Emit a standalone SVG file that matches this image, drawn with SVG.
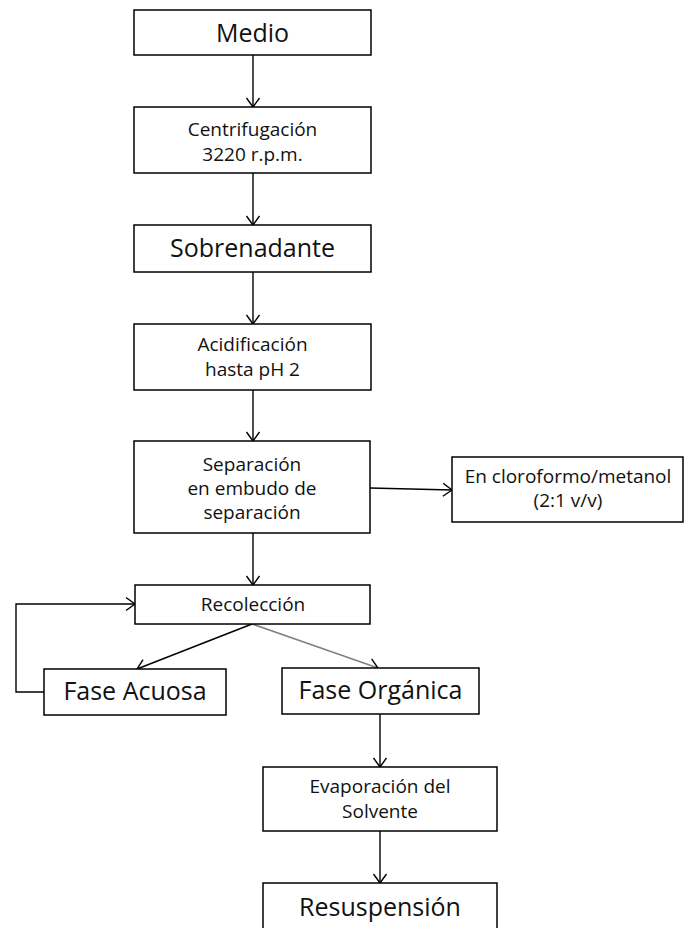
<svg xmlns="http://www.w3.org/2000/svg" width="686" height="928" viewBox="0 0 686 928">
<defs>
<style>
.box{fill:#fff;stroke:#000;stroke-width:1.5}
.t{font-family:"Open Sans","Noto Sans",sans-serif;fill:#111;text-anchor:middle}
.big{font-size:25px}
.sm{font-size:19px}
.c{fill:none;stroke:#000;stroke-width:1.4}
.g{fill:none;stroke:#808080;stroke-width:1.6}
</style>
<marker id="a" markerUnits="userSpaceOnUse" markerWidth="14" markerHeight="16" refX="10" refY="8" orient="auto">
<path d="M1,1.5 L10,8 L1,14.5" fill="none" stroke="#000" stroke-width="1.4"/>
</marker>
</defs>
<rect width="686" height="928" fill="#fff"/>
<g id="connectors">
<line class="c" x1="253" y1="55" x2="253" y2="107" marker-end="url(#a)"/>
<line class="c" x1="253" y1="173" x2="253" y2="225" marker-end="url(#a)"/>
<line class="c" x1="253" y1="272" x2="253" y2="324" marker-end="url(#a)"/>
<line class="c" x1="253" y1="390" x2="253" y2="441" marker-end="url(#a)"/>
<line class="c" x1="370" y1="488" x2="452" y2="490" marker-end="url(#a)"/>
<line class="c" x1="253" y1="533" x2="253" y2="585" marker-end="url(#a)"/>
<line class="c" x1="252" y1="624" x2="137" y2="669" marker-end="url(#a)"/>
<line class="g" x1="252" y1="624" x2="378" y2="668" marker-end="url(#a)"/>
<polyline class="c" points="44,692 16,692 16,604 135,604" marker-end="url(#a)"/>
<line class="c" x1="380" y1="714" x2="380" y2="767" marker-end="url(#a)"/>
<line class="c" x1="380" y1="831" x2="380" y2="883" marker-end="url(#a)"/>
</g>
<g id="medio"><rect class="box" x="134" y="10" width="237" height="45"/><text class="t big" x="252.5" y="42">Medio</text></g>
<g id="centrifugacion"><rect class="box" x="134" y="107" width="237" height="66"/><text class="t sm" x="252.5" y="136">Centrifugación</text><text class="t sm" x="252.5" y="161">3220 r.p.m.</text></g>
<g id="sobrenadante"><rect class="box" x="134" y="225" width="237" height="47"/><text class="t big" x="252.5" y="257">Sobrenadante</text></g>
<g id="acidificacion"><rect class="box" x="134" y="324" width="237" height="66"/><text class="t sm" x="252.5" y="351">Acidificación</text><text class="t sm" x="252.5" y="376">hasta pH 2</text></g>
<g id="separacion"><rect class="box" x="134" y="441" width="236" height="92"/><text class="t sm" x="252" y="471">Separación</text><text class="t sm" x="252" y="495">en embudo de</text><text class="t sm" x="252" y="519">separación</text></g>
<g id="cloroformo"><rect class="box" x="452" y="457" width="231" height="65"/><text class="t sm" x="568" y="483">En cloroformo/metanol</text><text class="t sm" x="568" y="507">(2:1 v/v)</text></g>
<g id="recoleccion"><rect class="box" x="135" y="585" width="235" height="39"/><text class="t sm" x="253" y="611">Recolección</text></g>
<g id="fase-acuosa"><rect class="box" x="44" y="669" width="182" height="46"/><text class="t big" x="135" y="700">Fase Acuosa</text></g>
<g id="fase-organica"><rect class="box" x="282" y="668" width="197" height="46"/><text class="t big" x="380.5" y="699">Fase Orgánica</text></g>
<g id="evaporacion"><rect class="box" x="263" y="767" width="234" height="64"/><text class="t sm" x="380" y="793">Evaporación del</text><text class="t sm" x="380" y="818">Solvente</text></g>
<g id="resuspension"><rect class="box" x="263" y="883" width="234" height="60"/><text class="t big" x="380" y="916">Resuspensión</text></g>
</svg>
